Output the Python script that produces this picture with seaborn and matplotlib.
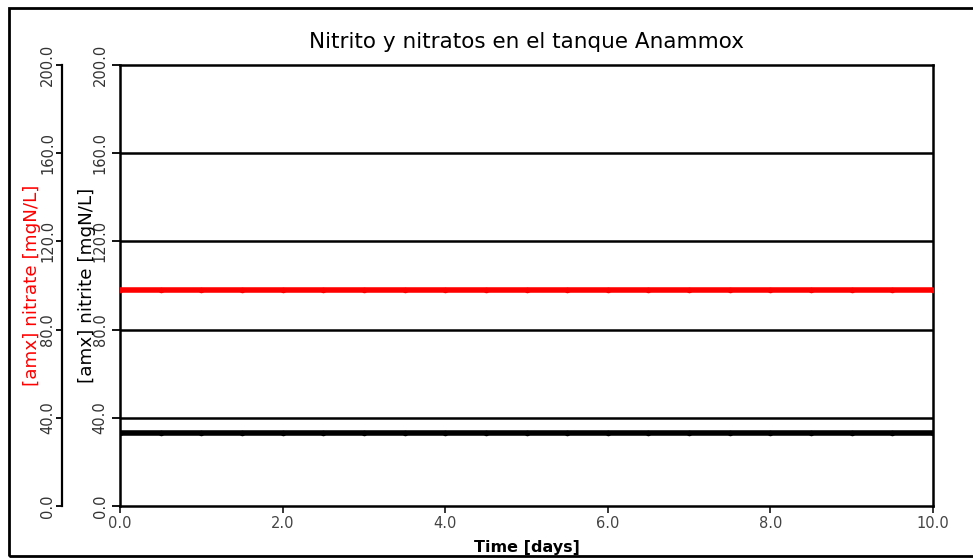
import numpy as np
import pandas as pd
import seaborn as sns
import matplotlib.pyplot as plt
from matplotlib.patches import Rectangle

# values
time_days = [0.0, 0.5, 1.0, 1.5, 2.0, 2.5, 3.0, 3.5, 4.0, 4.5, 5.0,
             5.5, 6.0, 6.5, 7.0, 7.5, 8.0, 8.5, 9.0, 9.5, 10.0]
nitrate = [98.0, 98.0, 98.0, 98.0, 98.0, 98.0, 98.0, 98.0, 98.0, 98.0, 98.0,
           98.0, 98.0, 98.0, 98.0, 98.0, 98.0, 98.0, 98.0, 98.0, 98.0]
nitrite = [33.0, 33.0, 33.0, 33.0, 33.0, 33.0, 33.0, 33.0, 33.0, 33.0, 33.0,
           33.0, 33.0, 33.0, 33.0, 33.0, 33.0, 33.0, 33.0, 33.0, 33.0]
y_ticks = [0, 40, 80, 120, 160, 200]
x_ticks = [0, 2, 4, 6, 8, 10]

data = pd.DataFrame({"time": time_days, "nitrate": nitrate, "nitrite": nitrite})

sns.set_style("white")
plt.rcParams["font.family"] = ["DejaVu Sans"]

fig = plt.figure(figsize=(9.73, 5.58), dpi=100)
ax = fig.add_axes([120 / 973, 1 - 506 / 558, 813 / 973, 441 / 558])

# frame around the whole picture
fig.patches.append(Rectangle((9 / 973, 2 / 558), 1.2, 548 / 558, transform=fig.transFigure,
                             fill=False, edgecolor="black", linewidth=2))

sns.lineplot(x="time", y="nitrite", data=data, ax=ax, color="black", linewidth=4,
             marker="o", markersize=4, markeredgewidth=0)

ax2 = ax.twinx()
sns.lineplot(x="time", y="nitrate", data=data, ax=ax2, color="red", linewidth=4,
             marker="o", markersize=4, markeredgewidth=0)

# outer axis for nitrate, 58 px left of the plot
ax2.spines["left"].set_position(("outward", 41.76))
ax2.spines["left"].set_visible(True)
ax2.spines["left"].set_linewidth(1.6)
ax2.spines["left"].set_color("black")
ax2.yaxis.set_ticks_position("left")
ax2.yaxis.set_label_position("left")
for s in ("right", "top", "bottom"):
    ax2.spines[s].set_visible(False)

for a in (ax, ax2):
    a.set_ylim(0, 200)
    a.set_yticks(y_ticks)
    a.set_yticklabels([f"{v:.1f}" for v in y_ticks], rotation=90, va="center",
                      fontsize=10.5, color="#333333")
ax.tick_params(axis="y", length=6, width=1.3, color="black", left=True, pad=3)
ax2.tick_params(axis="y", length=4, width=1.3, color="black", left=True, right=False, pad=1)

ax.set_xlim(0, 10)
ax.set_xticks(x_ticks)
ax.set_xticklabels([f"{v:.1f}" for v in x_ticks], fontsize=10.5, color="#444444")
ax.tick_params(axis="x", length=5, width=1.3, bottom=True, pad=2)

for v in y_ticks[1:-1]:
    ax.axhline(v, color="black", linewidth=1.8, zorder=0)

for s in ax.spines.values():
    s.set_color("black")
    s.set_linewidth(1.8)

ax.set_xlabel("Time [days]", fontsize=11.5, fontweight="bold", color="black")
ax.xaxis.set_label_coords(0.5, -0.077)
ax.set_ylabel("[amx] nitrite [mgN/L]", fontsize=13.2, color="black")
ax.yaxis.set_label_coords(-0.0295, 0.5)
ax2.set_ylabel("[amx] nitrate [mgN/L]", fontsize=13.2, color="red")
ax2.yaxis.set_label_coords(-0.0972, 0.5)
ax.set_title("Nitrito y nitratos en el tanque Anammox", fontsize=15.5, pad=12, color="black")

fig.savefig("out.png", dpi=100)
